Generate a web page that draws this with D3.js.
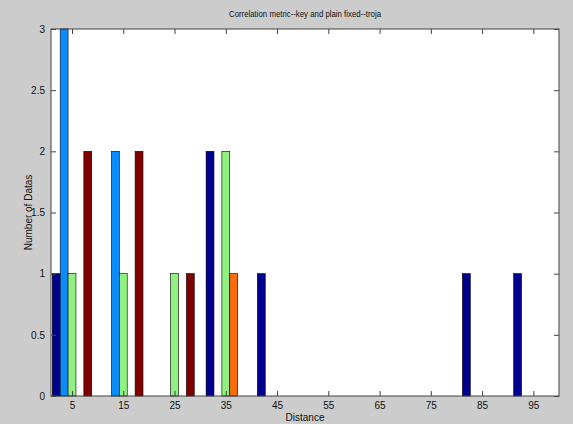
<!DOCTYPE html>
<html>
<head>
<meta charset="utf-8">
<script src="https://cdn.jsdelivr.net/npm/d3@7"></script>
<style>
  body { margin: 0; background: #cccccc; }
  svg { display: block; }
  text { font-family: "Liberation Sans Narrow", "Liberation Sans", Arial, sans-serif; fill: #111; }
</style>
</head>
<body>
<div id="chart"></div>
<script>
// bin centres (distance)
var centers = [5, 15, 25, 35, 45, 55, 65, 75, 85, 95];
// one array per series, one value per bin
var series1 = [1, 0, 0, 2, 1, 0, 0, 0, 1, 1];
var series2 = [3, 2, 0, 0, 0, 0, 0, 0, 0, 0];
var series3 = [1, 1, 1, 2, 0, 0, 0, 0, 0, 0];
var series4 = [0, 0, 0, 1, 0, 0, 0, 0, 0, 0];
var series5 = [2, 2, 1, 0, 0, 0, 0, 0, 0, 0];
var colors = ["#00008f", "#0a8cff", "#90f080", "#ff6a0a", "#800000"];
var yTicks = [0, 0.5, 1, 1.5, 2, 2.5, 3];

var allSeries = [series1, series2, series3, series4, series5];

var chart_width = 573, chart_height = 424;
// plot box (note: "top" is a reserved window prop, so use pl/pr/pt/pb)
var pl = 51, pr = 559, pt = 29, pb = 396;

var svg = d3.select('#chart')
  .append('svg')
  .attr('width', chart_width)
  .attr('height', chart_height);

svg.append('rect')
  .attr('width', chart_width).attr('height', chart_height)
  .attr('fill', '#cccccc');

// scales
var x = d3.scaleLinear().domain([0.9, 100]).range([pl, pr]);
var y = d3.scaleLinear().domain([0, 3]).range([pb, pt]);

// matlab style grouped bars: group width 10*5/6.5, each bar a fifth of it
var groupW = 10 * Math.min(0.8, 5 / 6.5);
var barW = groupW / 5;

svg.append('rect')
  .attr('x', pl).attr('y', pt)
  .attr('width', pr - pl).attr('height', pb - pt)
  .attr('fill', '#ffffff');

var bars = [];
allSeries.forEach((s, k) => {
  s.forEach((v, i) => {
    if (v > 0) bars.push({ k: k, c: centers[i], v: v });
  });
});

svg.selectAll('rect.bar')
  .data(bars)
  .enter()
  .append('rect')
  .attr('class', 'bar')
  .attr('x', (d) => x(d.c + (d.k - 2) * barW - barW / 2))
  .attr('width', (d) => x(barW) - x(0))
  .attr('y', (d) => y(d.v))
  .attr('height', (d) => y(0) - y(d.v))
  .attr('fill', (d) => colors[d.k])
  .attr('stroke', '#000')
  .attr('stroke-width', 0.6);

// axes: ticks pointing inward, on all four sides
var fmt = (d) => d3.format('~g')(d);
var axB = svg.append('g').attr('transform', 'translate(0,' + pb + ')')
  .call(d3.axisBottom(x).tickValues(centers).tickSizeInner(-5).tickSizeOuter(0).tickPadding(6));
var axT = svg.append('g').attr('transform', 'translate(0,' + pt + ')')
  .call(d3.axisTop(x).tickValues(centers).tickSizeInner(-5).tickSizeOuter(0).tickFormat(''));
var axL = svg.append('g').attr('transform', 'translate(' + pl + ',0)')
  .call(d3.axisLeft(y).tickValues(yTicks).tickFormat(fmt).tickSizeInner(-5).tickSizeOuter(0).tickPadding(6));
var axR = svg.append('g').attr('transform', 'translate(' + pr + ',0)')
  .call(d3.axisRight(y).tickValues(yTicks).tickSizeInner(-5).tickSizeOuter(0).tickFormat(''));

[axB, axT, axL, axR].forEach((a) => {
  a.select('.domain').remove();
  a.selectAll('line').attr('stroke', '#444');
  a.selectAll('text').attr('font-size', 10).attr('fill', '#111')
    .style('font-family', '"Liberation Sans Narrow", "Liberation Sans", Arial, sans-serif');
});

svg.append('rect')
  .attr('x', pl).attr('y', pt)
  .attr('width', pr - pl).attr('height', pb - pt)
  .attr('fill', 'none')
  .attr('stroke', '#444')
  .attr('stroke-width', 1);

// labels
svg.append('text')
  .text('Correlation metric--key and plain fixed--troja')
  .attr('x', (pl + pr) / 2).attr('y', 17)
  .attr('text-anchor', 'middle')
  .attr('font-size', 9)
  .attr('textLength', 152).attr('lengthAdjust', 'spacingAndGlyphs');

svg.append('text')
  .text('Distance')
  .attr('x', (pl + pr) / 2).attr('y', 421)
  .attr('text-anchor', 'middle')
  .attr('font-size', 10);

svg.append('text')
  .text('Number of Datas')
  .attr('transform', 'translate(32,' + (pt + pb) / 2 + ') rotate(-90)')
  .attr('text-anchor', 'middle')
  .attr('font-size', 10);
</script>
</body>
</html>
